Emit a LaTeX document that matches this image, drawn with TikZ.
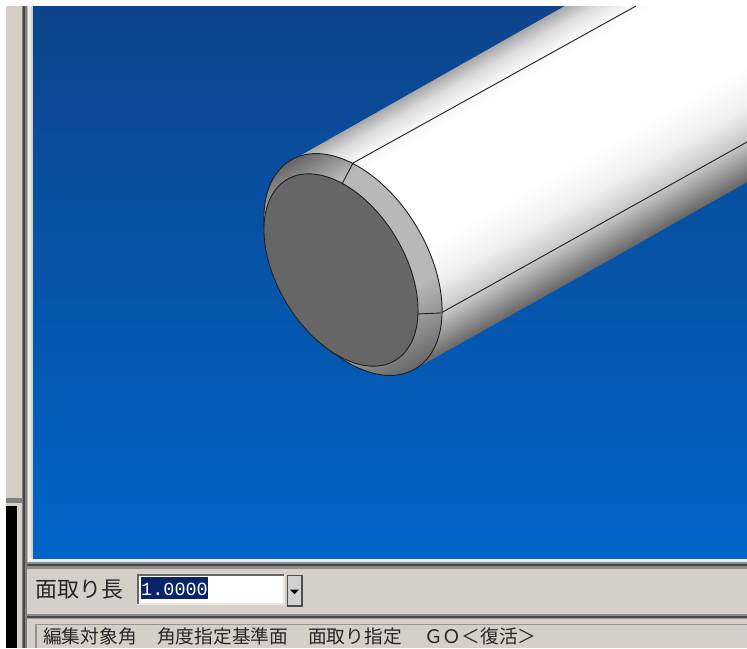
\documentclass[tikz,border=0pt]{standalone}
\usepackage{fontspec}
\newfontfamily\jpfont{Noto Sans CJK JP}
\newfontfamily\monofont{Liberation Mono}
\definecolor{panel}{HTML}{D4D0C8}
\definecolor{bluetop}{RGB}{12,68,140}
\definecolor{bluebot}{RGB}{0,101,200}
\definecolor{selnavy}{RGB}{10,36,106}
% stops live in the central 25bp..75bp band, which pgf fits to the path's box
\pgfdeclareverticalshading{cylshade}{100bp}{
 color(0bp)=(black!60!white);
 color(25bp)=(black!60!white);
 color(32.5bp)=(black!22!white);
 color(38.5bp)=(black!6!white);
 color(46bp)=(white);
 color(66bp)=(white);
 color(69bp)=(black!4!white);
 color(72bp)=(black!14!white);
 color(75bp)=(black!34!white);
 color(100bp)=(black!34!white)}
\pgfdeclareverticalshading{ringshade}{100bp}{
 color(0bp)=(black!60!white);
 color(25bp)=(black!60!white);
 color(34bp)=(black!40!white);
 color(40bp)=(black!28!white);
 color(67bp)=(black!28!white);
 color(75bp)=(black!60!white);
 color(100bp)=(black!60!white)}
\tikzset{
 chrome/.style={fill=#1,draw=none},
 edge/.style={draw=black!88,line width=0.9pt,line join=round},
 outerell/.style={rotate around={-59:(353,264.5)}},
 innerell/.style={rotate around={-59:(341,270)}},
 jp/.style={font=\jpfont\fontsize{18.7}{20}\selectfont,text=black!85,inner sep=0pt,anchor=west},
}
\begin{document}
\begin{tikzpicture}[x=1pt,y=-1pt]
\useasboundingbox (0,0) rectangle (747,648);
\fill[white] (0,0) rectangle (747,648);
% panels
\fill[panel] (6,6) rectangle (747,648);
% blue viewport
\shade[top color=bluetop,bottom color=bluebot,draw=none] (33,6) rectangle (747,559);
% left frame bars
\fill[chrome=black!50] (22,6) rectangle (23,648);
\fill[chrome=black!72] (23,6) rectangle (25,648);
\fill[chrome=black!50] (25,6) rectangle (27,648);
\fill[chrome=black!25] (27,6) rectangle (28,563);
\fill[chrome=panel!40!white] (28,6) rectangle (31,559);
\fill[chrome=panel] (31,6) rectangle (33,559);
\fill[chrome=panel!40!white] (28,559) rectangle (747,562);
% horizontal bars under viewport
\fill[chrome=black!45] (27,562) rectangle (747,563.5);
\fill[chrome=black!72] (27,563.5) rectangle (747,566);
\fill[chrome=black!45] (27,566) rectangle (747,569);
\fill[chrome=black!45] (27,614) rectangle (747,615.5);
\fill[chrome=black!72] (27,615.5) rectangle (747,617.5);
\fill[chrome=black!40] (27,617.5) rectangle (747,619);
% status frame
\fill[chrome=black!42] (35,623.5) rectangle (747,625);
\fill[chrome=black!42] (35,623.5) rectangle (36.5,648);
% left black area
\fill[chrome=black!50] (6,498) rectangle (22,503);
\fill[black] (6,506) rectangle (17,648);
% cylinder body
\begin{scope}
 \clip (293,159) -- (563,6) -- (747,6) -- (747,183) -- (413,370) -- cycle;
 \begin{scope}[x=1pt,y=1pt,transform canvas={shift={(305pt,-153pt)},rotate=29.5}]
  \shade[shading=cylshade] (-150,-243) rectangle (700,0);
 \end{scope}
\end{scope}
\draw[edge] (353,163) -- (636,6);
\draw[edge] (441,313) -- (747,142);
% chamfer ring
\begin{scope}
 \clip[outerell] (353,264.5) ellipse [x radius=121.5,y radius=74];
 \begin{scope}[x=1pt,y=1pt,transform canvas={shift={(305pt,-153pt)},rotate=29.5}]
  \shade[shading=ringshade] (-150,-243) rectangle (700,0);
 \end{scope}
\end{scope}
\draw[edge,outerell] (353,264.5) ellipse [x radius=121.5,y radius=74];
% end face
\draw[edge,fill=black!60,innerell] (341,270) ellipse [x radius=105.4,y radius=63.8];
\draw[edge] (353,163) -- (342,184);
\draw[edge] (417,314) -- (441,313);
% input box
\fill[white] (137,574) rectangle (284,605);
\fill[chrome=panel!50!white] (137,602.5) rectangle (285,605);
\fill[chrome=panel!50!white] (282.5,574) rectangle (285,605);
\fill[chrome=black!60] (137,574) rectangle (284,576);
\fill[chrome=black!60] (137,574) rectangle (139,604);
\fill[selnavy] (141,577) rectangle (208,599);
\node[inner sep=0pt,anchor=west,text=white,font=\monofont\fontsize{18.5}{20}\selectfont] (val) at (141,589) {1.0000};
% spin button
\fill[chrome=black!70] (287,575) rectangle (303,607);
\fill[chrome=black!18] (288,576) rectangle (301,605);
\fill[black] (290,589.5) -- (299,589.5) -- (294.5,594) -- cycle;
% texts
\node[jp,font=\jpfont\fontsize{22}{24}\selectfont] (lab) at (35,590) {面取り長};
\node[jp] (s1) at (43,636) {編集対象角};
\node[jp] (s2) at (157,636) {角度指定基準面};
\node[jp] (s3) at (308,636) {面取り指定};
\node[jp] (s4) at (424,636) {\char"FF27\char"FF2F\char"FF1C 復活\char"FF1E};
\end{tikzpicture}
\end{document}
